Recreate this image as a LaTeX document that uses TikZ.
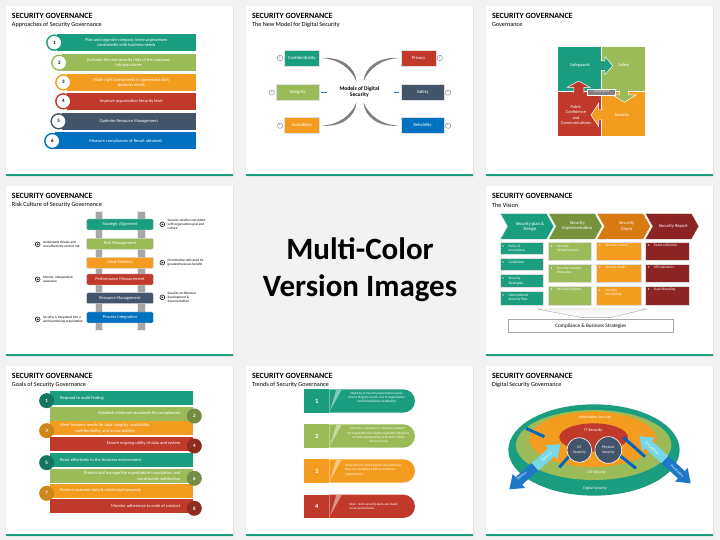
\documentclass[tikz,border=0pt]{standalone}
\usepackage{fontspec}
\setmainfont{Carlito}
\usetikzlibrary{positioning}

\definecolor{tealc}{RGB}{27,158,128}
\definecolor{greenc}{RGB}{155,187,89}
\definecolor{orangec}{RGB}{243,156,31}
\definecolor{redc}{RGB}{192,57,43}
\definecolor{slatec}{RGB}{68,84,106}
\definecolor{bluec}{RGB}{0,112,192}
\definecolor{olivec}{RGB}{118,146,60}
\definecolor{amberc}{RGB}{216,122,18}
\definecolor{maroonc}{RGB}{140,36,36}
\definecolor{railc}{RGB}{166,166,166}
\definecolor{arcgray}{RGB}{128,128,128}
\definecolor{bgc}{RGB}{242,242,242}
\definecolor{navyc}{RGB}{0,102,190}
\definecolor{skyc}{RGB}{120,215,230}
\definecolor{deepc}{RGB}{30,120,200}

% white slide with teal foot, title and subtitle (zoom units)
\newcommand{\slidepanel}[2]{%
	\fill[black!10] (22,20) rectangle (703,532);
	\fill[white] (19,17) rectangle (700,529);
	\fill[tealc] (19,523) rectangle (700,529);
	\node[ttl] (#1title) at (36,47) {SECURITY GOVERNANCE};
	\node[sub] (#1sub) at (36,75) {#2};
}

\begin{document}
\begin{tikzpicture}[x=1pt, y=-1pt, line join=miter,
	every node/.style={inner sep=0pt, outer sep=0pt, text=white},
	zoomed/.style 2 args={xshift=#1pt, yshift=-#2pt, x=0.3333pt, y=-0.3333pt},
	ttl/.style={anchor=west, text=black, font=\bfseries\fontsize{8}{9}\selectfont},
	sub/.style={anchor=west, text=black, font=\fontsize{6.2}{7}\selectfont},
	hbar/.style={minimum height=17pt, align=center, font=\fontsize{4.4}{5.4}\selectfont},
	numring/.style={circle, fill=white, line width=1.4pt, minimum size=15pt, text=black, font=\bfseries\fontsize{5}{6}\selectfont},
	mbox/.style={draw=white!75!gray, line width=0.4pt, minimum height=16pt, font=\fontsize{4.6}{5.5}\selectfont},
	plusic/.style={circle, draw=gray, line width=0.4pt, minimum size=5.5pt, text=gray, font=\fontsize{4.5}{4.5}\selectfont},
	piece/.style={draw=white, line width=0.5pt},
	plab/.style={font=\fontsize{4.4}{5.2}\selectfont, align=center},
	rbar/.style={rounded corners=1.2pt, draw=white!70!gray, line width=0.4pt, minimum width=66.7pt, minimum height=11pt, font=\fontsize{4.4}{5}\selectfont},
	playic/.style={circle, draw=black, line width=0.5pt, minimum size=4.8pt, path picture={\fill[black] ([xshift=-0.8pt,yshift=1.1pt]path picture bounding box.center) -- ([xshift=1.1pt]path picture bounding box.center) -- ([xshift=-0.8pt,yshift=-1.1pt]path picture bounding box.center) -- cycle;}},
	note/.style={text=black, align=left, font=\fontsize{3.4}{4.1}\selectfont},
	chev/.style={draw=white, line width=0.5pt},
	chevlab/.style={font=\fontsize{4.6}{5.4}\selectfont, align=center},
	vbox/.style={anchor=north west, draw=white!75!gray, line width=0.4pt},
	vtext/.style={anchor=north west, align=left, font=\fontsize{3.6}{4.5}\selectfont},
	gbar/.style={minimum width=143.3pt, minimum height=13.7pt},
	gtext/.style={align=left, font=\fontsize{4.4}{5.3}\selectfont},
	gcirc/.style={circle, minimum size=15pt, font=\bfseries\fontsize{5}{6}\selectfont},
	nbox/.style={minimum width=25pt, minimum height=23.3pt, font=\bfseries\fontsize{6.5}{7}\selectfont},
	ttext/.style={font=\fontsize{3.3}{4.3}\selectfont, align=center},
	dlab/.style={font=\fontsize{3.8}{4.6}\selectfont, align=center}]

	\useasboundingbox (0,0) rectangle (720,540);
	\fill[bgc] (0,0) rectangle (720,540);

	% Approaches
	\begin{scope}[zoomed={0}{0}]
	\slidepanel{pa}{Approaches of Security Governance}
	\node[hbar, fill=tealc, minimum width=139.3pt] (pa1) at (379,129) {Plan and organize company internal processes\\consistently with business needs};
	\node[hbar, fill=greenc, minimum width=134.3pt] (pa2) at (386.5,187.5) {Evaluate the real security risks of the company\\infrastructures};
	\node[hbar, fill=orangec, minimum width=129.3pt] (pa3) at (394,247) {Make right investments in agreement with\\business needs};
	\node[hbar, fill=redc, minimum width=129.3pt] (pa4) at (394,305) {Improve organization Security level};
	\node[hbar, fill=slatec, minimum width=134.3pt] (pa5) at (386.5,364) {Optimize Resource Management};
	\node[hbar, fill=bluec, minimum width=141pt] (pa6) at (376.5,423) {Measure compliances of Result obtained};
	\node[numring, draw=tealc] (pa1n) at (163,128) {1};
	\node[numring, draw=greenc] (pa2n) at (178,188) {2};
	\node[numring, draw=orangec] (pa3n) at (190,247) {3};
	\node[numring, draw=redc] (pa4n) at (190,304) {4};
	\node[numring, draw=slatec] (pa5n) at (176,364) {5};
	\node[numring, draw=bluec] (pa6n) at (157,423) {6};
	\end{scope}

	% New model
	\begin{scope}[zoomed={240}{0}]
	\slidepanel{pb}{The New Model for Digital Security}
	\node[mbox, fill=tealc, minimum width=35pt] (conf) at (185.5,174) {Confidentiality};
	\node[mbox, fill=greenc, minimum width=43.3pt] (integ) at (173,277.5) {Integrity};
	\node[mbox, fill=orangec, minimum width=35pt] (avail) at (185.5,377) {Availability};
	\node[mbox, fill=redc, minimum width=35pt] (priv) at (535.5,174) {Privacy};
	\node[mbox, fill=slatec, minimum width=43.3pt] (safe) at (548,277.5) {Safety};
	\node[mbox, fill=bluec, minimum width=43.3pt] (reli) at (548,377) {Reliability};
	\node[text=black, font=\bfseries\fontsize{5.6}{6.6}\selectfont, align=center] (models) at (358,276) {Models of Digital\\Security};
	\node[plusic, left=1.5pt of conf] (pl1) {+};
	\node[plusic, left=1.5pt of integ] (pl2) {+};
	\node[plusic, left=1.5pt of avail] (pl3) {+};
	\node[plusic, right=1pt of priv] (pl4) {+};
	\node[plusic, right=1pt of safe] (pl5) {+};
	\node[plusic, right=1pt of reli] (pl6) {+};
	\fill[arcgray] ([xshift=2pt]conf.east) .. controls (305,170) and (345,200) .. (350,245) .. controls (333,207) and (300,178) .. ([xshift=2pt]conf.east) -- cycle;
	\fill[arcgray] ([xshift=-2pt]priv.west) .. controls (415,170) and (375,200) .. (370,245) .. controls (387,207) and (420,178) .. ([xshift=-2pt]priv.west) -- cycle;
	\fill[arcgray] ([xshift=2pt]avail.east) .. controls (305,382) and (345,352) .. (350,307) .. controls (333,345) and (300,374) .. ([xshift=2pt]avail.east) -- cycle;
	\fill[arcgray] ([xshift=-2pt]reli.west) .. controls (415,382) and (375,352) .. (370,307) .. controls (387,345) and (420,374) .. ([xshift=-2pt]reli.west) -- cycle;
	\draw[bluec!60!gray, line width=0.8pt] ([xshift=2pt]integ.east) -- ([xshift=7.5pt]integ.east);
	\draw[bluec!60!gray, line width=0.8pt] ([xshift=-2pt]safe.west) -- ([xshift=-7.5pt]safe.west);
	\end{scope}

	% Governance puzzle
	\begin{scope}[zoomed={480}{0}]
	\slidepanel{pc}{Governance}
	\fill[tealc, piece] (232,140) rectangle (365,275);
	\fill[greenc, piece] (365,140) rectangle (497,275);
	\fill[redc, piece] (232,275) rectangle (365,410);
	\fill[orangec, piece] (365,275) rectangle (497,410);
	\fill[tealc, piece] (362,183) -- (375,183) -- (375,170) -- (398,197) -- (375,224) -- (375,211) -- (362,211);
	\fill[greenc, piece] (418,272) -- (418,285) -- (398,285) -- (433,307) -- (468,285) -- (446,285) -- (446,272);
	\fill[orangec, piece] (368,330) -- (356,330) -- (356,310) -- (333,345) -- (356,380) -- (356,360) -- (368,360);
	\fill[redc, piece] (282,278) -- (282,262) -- (262,262) -- (296,243) -- (330,262) -- (312,262) -- (312,278);
	\node[plab] (sg) at (300,195) {Safeguards};
	\node[plab] (sf) at (432,195) {Safety};
	\node[plab] (sc) at (426,347) {Security};
	\node[plab] (pcc) at (288,345) {Public\\Confidence\\and\\Communications};
	\node[draw=white, fill=arcgray, line width=0.4pt, minimum width=27.7pt, minimum height=6pt, font=\fontsize{2.8}{3}\selectfont] (gov) at (363.5,276) {GOVERNANCE};
	\end{scope}

	% Risk culture ladder
	\begin{scope}[zoomed={0}{180}]
	\slidepanel{pd}{Risk Culture of Security Governance}
	\fill[railc, draw=white!85!gray] (285,95) rectangle (307,450);
	\fill[railc, draw=white!85!gray] (413,95) rectangle (435,450);
	\node[rbar, fill=tealc] (sa) at (360,133.5) {Strategic Alignment};
	\node[rbar, fill=greenc] (rm) at (360,191.5) {Risk Management};
	\node[rbar, fill=orangec] (vd) at (360,248.5) {Value Delivery};
	\node[rbar, fill=redc] (pm) at (360,298.5) {Performance Measurement};
	\node[rbar, fill=slatec] (rsm) at (360,354.5) {Resource Management};
	\node[rbar, fill=bluec] (proc) at (360,412.5) {Process Integration};
	\node[playic] (ic1) at (487,133) {};
	\node[note, right=3pt of ic1] (n1) {Security solution consistent\\with organization goal and\\culture};
	\node[playic] (ic2) at (487,248) {};
	\node[note, right=3pt of ic2] (n2) {Prioritization delivered for\\greatest business benefit};
	\node[playic] (ic3) at (487,352) {};
	\node[note, right=3pt of ic3] (n3) {Security architecture\\development \&\\documentation};
	\node[playic] (ic4) at (113,193) {};
	\node[note, right=3pt of ic4] (n4) {Understand threats and\\cost effectively control risk};
	\node[playic] (ic5) at (113,298) {};
	\node[note, right=3pt of ic5] (n5) {Metrics, independent\\assurance};
	\node[playic] (ic6) at (113,418) {};
	\node[note, right=3pt of ic6] (n6) {Security is integrated into a\\well functioning organization};
	\end{scope}

	% Centre text
	\node[text=black, font=\bfseries\fontsize{31}{37}\selectfont, align=center] (mc) at (360,270) {Multi-Color\\Version Images};

	% The vision
	\begin{scope}[zoomed={480}{180}]
	\slidepanel{pe}{The Vision}
	\fill[tealc, chev] (60,100) -- (200,100) -- (222,139) -- (200,178) -- (60,178) -- (82,139) -- cycle;
	\fill[olivec, chev] (205,100) -- (345,100) -- (367,139) -- (345,178) -- (205,178) -- (227,139) -- cycle;
	\fill[amberc, chev] (350,100) -- (490,100) -- (512,139) -- (490,178) -- (350,178) -- (372,139) -- cycle;
	\fill[maroonc, chev] (495,100) -- (635,100) -- (657,139) -- (635,178) -- (495,178) -- (517,139) -- cycle;
	\node[chevlab] (v1) at (150,140) {Security plan \&\\Design};
	\node[chevlab] (v2) at (292,138) {Security\\Implementation};
	\node[chevlab] (v3) at (440,138) {Security\\Check};
	\node[chevlab] (v4) at (580,138) {Security Report};
	\node[vbox, fill=tealc, minimum width=43.3pt, minimum height=12.7pt] (c11) at (60,186) {};
	\node[vbox, fill=tealc, minimum width=43.3pt, minimum height=12pt] (c12) at (60,236) {};
	\node[vbox, fill=tealc, minimum width=43.3pt, minimum height=13pt] (c13) at (60,283) {};
	\node[vbox, fill=tealc, minimum width=43.3pt, minimum height=14pt] (c14) at (60,333) {};
	\node[vbox, fill=greenc, minimum width=43.3pt, minimum height=18.7pt] (c21) at (205,186) {};
	\node[vbox, fill=greenc, minimum width=43.3pt, minimum height=18.7pt] (c22) at (205,252) {};
	\node[vbox, fill=greenc, minimum width=43.3pt, minimum height=19pt] (c23) at (205,318) {};
	\node[vbox, fill=orangec, minimum width=44.3pt, minimum height=18.7pt] (c31) at (350,186) {};
	\node[vbox, fill=orangec, minimum width=44.3pt, minimum height=18.7pt] (c32) at (350,252) {};
	\node[vbox, fill=orangec, minimum width=44.3pt, minimum height=19pt] (c33) at (350,318) {};
	\node[vbox, fill=maroonc, minimum width=43.7pt, minimum height=18.7pt] (c41) at (497,186) {};
	\node[vbox, fill=maroonc, minimum width=43.7pt, minimum height=18.7pt] (c42) at (497,252) {};
	\node[vbox, fill=maroonc, minimum width=43.7pt, minimum height=19pt] (c43) at (497,318) {};
	\node[vtext] (t11) at ([xshift=2.3pt, yshift=-2.3pt]c11.north west) {\textbullet\hspace{4.5pt}\begin{tabular}[t]{@{}l@{}}Policy \&\\procedures\end{tabular}};
	\node[vtext] (t12) at ([xshift=2.3pt, yshift=-2.3pt]c12.north west) {\textbullet\hspace{4.5pt}Guidelines};
	\node[vtext] (t13) at ([xshift=2.3pt, yshift=-2.3pt]c13.north west) {\textbullet\hspace{4.5pt}\begin{tabular}[t]{@{}l@{}}Security\\Strategies\end{tabular}};
	\node[vtext] (t14) at ([xshift=2.3pt, yshift=-2.3pt]c14.north west) {\textbullet\hspace{4.5pt}\begin{tabular}[t]{@{}l@{}}Informational\\Security Plan\end{tabular}};
	\node[vtext] (t21) at ([xshift=2.3pt, yshift=-2.3pt]c21.north west) {\textbullet\hspace{4.5pt}\begin{tabular}[t]{@{}l@{}}Security\\Infrastructures\end{tabular}};
	\node[vtext] (t22) at ([xshift=2.3pt, yshift=-2.3pt]c22.north west) {\textbullet\hspace{4.5pt}\begin{tabular}[t]{@{}l@{}}Security Counter\\Measures\end{tabular}};
	\node[vtext] (t23) at ([xshift=2.3pt, yshift=-2.3pt]c23.north west) {\textbullet\hspace{4.5pt}Security Projects};
	\node[vtext] (t31) at ([xshift=2.3pt, yshift=-2.3pt]c31.north west) {\textbullet\hspace{4.5pt}Security control};
	\node[vtext] (t32) at ([xshift=2.3pt, yshift=-2.3pt]c32.north west) {\textbullet\hspace{4.5pt}Security Audit};
	\node[vtext] (t33) at ([xshift=2.3pt, yshift=-2.3pt]c33.north west) {\textbullet\hspace{4.5pt}\begin{tabular}[t]{@{}l@{}}Security\\Monitoring\end{tabular}};
	\node[vtext] (t41) at ([xshift=2.3pt, yshift=-2.3pt]c41.north west) {\textbullet\hspace{4.5pt}Event collection};
	\node[vtext] (t42) at ([xshift=2.3pt, yshift=-2.3pt]c42.north west) {\textbullet\hspace{4.5pt}KPI indicators};
	\node[vtext] (t43) at ([xshift=2.3pt, yshift=-2.3pt]c43.north west) {\textbullet\hspace{4.5pt}Dash Boarding};
	\filldraw[fill=gray!6, draw=gray!70, line width=0.4pt] (170,387) -- (500,387) -- (395,412) -- (300,412) -- cycle;
	\node[draw=gray!70, fill=white, line width=0.5pt, minimum width=165pt, minimum height=13pt, text=black, font=\fontsize{5.2}{6}\selectfont] (comp) at (332.5,437.5) {Compliance \& Business Strategies};
	\end{scope}

	% Goals
	\begin{scope}[zoomed={0}{360}]
	\slidepanel{pf}{Goals of Security Governance}
	\node[gbar, fill=tealc] (g1) at (365,115) {};
	\node[gbar, fill=greenc] (g2) at (365,161) {};
	\node[gbar, fill=orangec] (g3) at (365,205) {};
	\node[gbar, fill=redc] (g4) at (365,251) {};
	\node[gbar, fill=tealc] (g5) at (365,301) {};
	\node[gbar, fill=greenc] (g6) at (365,347.5) {};
	\node[gbar, fill=orangec] (g7) at (365,392.5) {};
	\node[gbar, fill=redc] (g8) at (365,438) {};
	\node[gtext, anchor=west] (g1t) at ([xshift=10pt]g1.west) {Respond to audit finding};
	\node[gtext, anchor=east, align=right] (g2t) at ([xshift=-13pt]g2.east) {Establish minimum standards for compliances};
	\node[gtext, anchor=west, align=center] (g3t) at ([xshift=10pt]g3.west) {Meet business needs for data integrity, availability,\\confidentiality, and accountability};
	\node[gtext, anchor=east, align=right] (g4t) at ([xshift=-13pt]g4.east) {Ensure ongoing utility of data and system};
	\node[gtext, anchor=west] (g5t) at ([xshift=10pt]g5.west) {React effectively to the business environment};
	\node[gtext, anchor=east, align=right] (g6t) at ([xshift=-13pt]g6.east) {Protect and manage the organization's reputation and\\constituents satisfaction};
	\node[gtext, anchor=west] (g7t) at ([xshift=10pt]g7.west) {Protect customer data \& intellectual property};
	\node[gtext, anchor=east, align=right] (g8t) at ([xshift=-13pt]g8.east) {Monitor adherence to code of conduct};
	\node[gcirc, fill=tealc!75!black] (g1c) at (140,122) {1};
	\node[gcirc, fill=greenc!75!black] (g2c) at (583,168) {2};
	\node[gcirc, fill=orangec!85!black] (g3c) at (140,212) {3};
	\node[gcirc, fill=redc!75!black] (g4c) at (583,258) {4};
	\node[gcirc, fill=tealc!75!black] (g5c) at (140,308) {5};
	\node[gcirc, fill=greenc!75!black] (g6c) at (583,355) {6};
	\node[gcirc, fill=orangec!85!black] (g7c) at (140,400) {7};
	\node[gcirc, fill=redc!75!black] (g8c) at (583,445) {8};
	\end{scope}

	% Trends
	\begin{scope}[zoomed={240}{360}]
	\slidepanel{pg}{Trends of Security Governance}
	\node[nbox, fill=tealc] (tr1) at (230.5,123) {1};
	\node[nbox, fill=greenc] (tr2) at (230.5,228) {2};
	\node[nbox, fill=orangec] (tr3) at (230.5,333) {3};
	\node[nbox, fill=redc] (tr4) at (230.5,439) {4};
	\fill[tealc] (tr1.north east) -- (490,88) arc (-90:90:35) -- (tr1.south east) -- cycle;
	\fill[greenc] (tr2.north east) -- (490,193) arc (-90:90:35) -- (tr2.south east) -- cycle;
	\fill[orangec] (tr3.north east) -- (490,298) arc (-90:90:35) -- (tr3.south east) -- cycle;
	\fill[redc] (tr4.north east) -- (490,404) arc (-90:90:35) -- (tr4.south east) -- cycle;
	\fill[tealc!55!white] (270,152) -- (289,89) -- (305,89) -- cycle;
	\fill[greenc!55!white] (270,257) -- (289,194) -- (305,194) -- cycle;
	\fill[orangec!55!white] (270,362) -- (289,299) -- (305,299) -- cycle;
	\fill[redc!55!white] (270,468) -- (289,405) -- (305,405) -- cycle;
	\node[ttext] (tx1) at (410,113) {Maturity of Security Governance varies\\due to Program youth, size of organization\\and limited direct leadership};
	\node[ttext] (tx2) at (415,225) {Security is viewed as a ``business enabler''\\for organizations in highly regulated industries\\or with requirements to protect critical\\infrastructure};
	\node[ttext, anchor=west, align=left] (tx3) at (316,330) {Prevention of a data breach and potential\\fines for compliance failure motivates\\organizations.};
	\node[ttext, anchor=west, align=left] (tx4) at (328,440) {Near - term security plans are made\\on an annual basis};
	\end{scope}

	% Digital security
	\begin{scope}[zoomed={480}{360}]
	\slidepanel{ph}{Digital Security Governance}
	\fill[tealc] (342,270) ellipse [x radius=257, y radius=137];
	\fill[greenc] (341,255) ellipse [x radius=233, y radius=105];
	\fill[orangec] (339,238) ellipse [x radius=191, y radius=83];
	\fill[redc] (341,232) ellipse [x radius=103, y radius=42];
	\draw[navyc, line width=3pt] (138,205) -- (193,230);
	\draw[navyc, line width=3pt] (238,322) -- (268,288);
	\draw[navyc, line width=3pt] (430,232) -- (495,290);
	\draw[navyc, line width=3pt] (415,283) -- (468,325);
	\node[circle, fill=slatec, draw=white, line width=0.6pt, minimum size=24.7pt, dlab] (ot) at (298,270) {OT\\Security};
	\node[circle, fill=slatec, draw=white, line width=0.6pt, minimum size=26.7pt, dlab] (phy) at (385,270) {Physical\\Security};
	\node[dlab] (infs) at (345,172) {Information Security};
	\node[dlab, font=\fontsize{4.2}{5}\selectfont] (its) at (340,212) {IT Security};
	\node[dlab] (iots) at (350,337) {IOT Security};
	\node[dlab] (dgs) at (345,386) {Digital Security};
	\fill[deepc] (88,388) -- (135,383.9) -- (126.4,374.1) -- (174.9,331.2) -- (155.1,308.8) -- (106.6,351.7) -- (98,341.9) -- cycle;
	\fill[skyc] (174.9,331.2) -- (223.4,288.3) -- (232,298.1) -- (242,252) -- (195,256.1) -- (203.6,265.9) -- (155.1,308.8) -- cycle;
	\fill[skyc] (478,228) -- (486.9,274.4) -- (495.7,264.8) -- (544.8,310) -- (565.2,288) -- (516.1,242.8) -- (524.9,233.2) -- cycle;
	\fill[deepc] (544.8,310) -- (593.9,355.2) -- (585.1,364.8) -- (632,370) -- (623.1,323.6) -- (614.3,333.2) -- (565.2,288) -- cycle;
	\node[dlab, rotate=41] (off) at (125,348) {Offence};
	\node[dlab, rotate=41] (def) at (200,290) {Defence};
	\node[dlab, rotate=-42] (prev) at (517,265) {Prevention};
	\node[dlab, rotate=-42] (prot) at (592,333) {Protection};
	\end{scope}
\end{tikzpicture}
\end{document}
